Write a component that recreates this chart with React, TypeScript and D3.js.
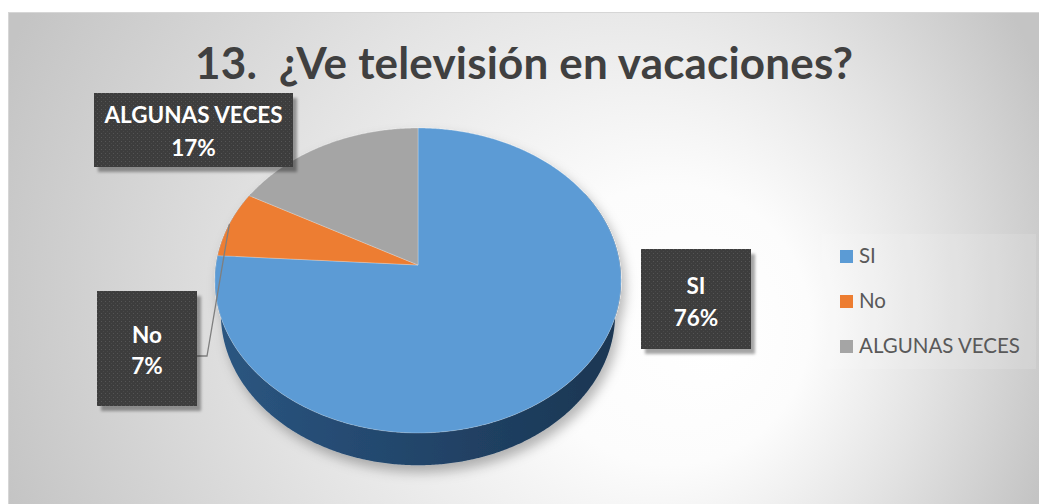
import React, { useEffect } from 'react';
import * as d3 from 'd3';

// ---- data ----
const categories = ['SI', 'No', 'ALGUNAS VECES'];
const values = [76, 7, 17];
const percentLabels = ['76%', '7%', '17%'];
const colors = ['#5B9BD5', '#ED7D31', '#A5A5A5'];
const title = '13.  ¿Ve televisión en vacaciones?';

// ---- layout ----
const W = 1039;
const H = 504;
const CX = 418;
const CY = 265;
const RX = 202;
const SIN_A = 0.747;
const COS_A = 0.665;
const K = 0.153;
const DEPTH = 0.26;

const labelBoxes = [
  { x: 641, y: 249, w: 110, h: 100, b1: 294, b2: 326 },
  { x: 97, y: 291, w: 100, h: 115, b1: 343, b2: 374 },
  { x: 94, y: 93, w: 199, h: 74, b1: 123, b2: 156 },
];

function project(theta: number, yw: number): [number, number] {
  const X = Math.sin(theta);
  const Z = Math.cos(theta);
  const yc = yw * COS_A + Z * SIN_A;
  const zc = (Z * COS_A - yw * SIN_A) * K + 1;
  return [CX + (RX * X) / zc, CY - (RX * yc) / zc];
}

function arcPoints(a0: number, a1: number, yw: number): [number, number][] {
  const n = Math.max(2, Math.ceil(Math.abs(a1 - a0) / (Math.PI / 360)));
  const pts: [number, number][] = [];
  for (let i = 0; i <= n; i++) {
    const t = a0 + ((a1 - a0) * i) / n;
    pts.push(project(t, yw));
  }
  return pts;
}

export default function App() {
  useEffect(() => {
    document.body.style.margin = '0';
  }, []);

  const pie = d3
    .pie<number>()
    .sort(null)
    .startAngle(0)
    .endAngle(2 * Math.PI)(values);

  const line = d3.line<[number, number]>().x((d) => d[0]).y((d) => d[1]);

  const toRad = (deg: number) => (deg * Math.PI) / 180;
  const sideTop = arcPoints(toRad(60), toRad(300), 0);
  const sideBottom = arcPoints(toRad(300), toRad(60), -DEPTH);
  const sidePath = line([...sideTop, ...sideBottom]) + 'Z';

  const slicePaths = pie.map((p) => {
    const pts: [number, number][] = [[CX, CY], ...arcPoints(p.startAngle, p.endAngle, 0)];
    return line(pts) + 'Z';
  });

  const noSlice = pie[1];
  const noMid = project((noSlice.startAngle + noSlice.endAngle) / 2, 0);
  const noBox = labelBoxes[1];
  const leader: [number, number][] = [
    [noBox.x + noBox.w, 356],
    [noBox.x + noBox.w + 10, 356],
    noMid,
  ];

  const legendX = 840;
  const legendY0 = 250;
  const legendStep = 45;

  return (
    <svg width={W} height={H} style={{ display: 'block' }} fontFamily="Lato, 'Open Sans', sans-serif">
      <defs>
        <radialGradient id="bg" gradientUnits="userSpaceOnUse" cx={520} cy={280} r={560} fx={720} fy={340}>
          <stop offset="0" stopColor="#ffffff" />
          <stop offset="0.25" stopColor="#fcfcfc" />
          <stop offset="0.6" stopColor="#e3e3e3" />
          <stop offset="1" stopColor="#c4c4c4" />
        </radialGradient>
        <linearGradient id="side" gradientUnits="userSpaceOnUse" x1={CX - RX} y1={0} x2={CX + RX} y2={0}>
          <stop offset="0" stopColor="#2b5681" />
          <stop offset="0.5" stopColor="#22456a" />
          <stop offset="1" stopColor="#1b3652" />
        </linearGradient>
        <pattern id="dots" width={4} height={4} patternUnits="userSpaceOnUse">
          <rect width={4} height={4} fill="#3d3d3d" />
          <rect x={1} y={1} width={1} height={1} fill="#555555" />
          <rect x={3} y={3} width={1} height={1} fill="#4a4a4a" />
        </pattern>
        <filter id="pieShadow" x="-20%" y="-20%" width="140%" height="140%">
          <feDropShadow dx={4} dy={7} stdDeviation={6} floodColor="#000" floodOpacity={0.28} />
        </filter>
        <filter id="boxShadow" x="-20%" y="-20%" width="140%" height="150%">
          <feDropShadow dx={4} dy={5} stdDeviation={1.5} floodColor="#000" floodOpacity={0.35} />
        </filter>
      </defs>

      <rect x={0} y={0} width={W} height={H} fill="#ffffff" />
      <rect x={8.5} y={12.5} width={W} height={H} fill="url(#bg)" stroke="#d6d6d6" strokeWidth={1} />

      <text
        x={524}
        y={79}
        textAnchor="middle"
        fontSize={44}
        fontWeight={700}
        fill="#404040"
        textLength={658}
        lengthAdjust="spacing"
        style={{ whiteSpace: 'pre' }}
      >
        {title}
      </text>

      <g filter="url(#pieShadow)">
        <path d={sidePath} fill="url(#side)" />
        {slicePaths.map((d, i) => (
          <path key={i} d={d} fill={colors[i]} stroke="rgba(255,255,255,0.25)" strokeWidth={1} strokeLinejoin="round" />
        ))}
      </g>

      <path d={line(leader) ?? ''} fill="none" stroke="#7f7f7f" strokeWidth={1.3} />

      {labelBoxes.map((b, i) => (
        <g key={i}>
          <rect x={b.x} y={b.y} width={b.w} height={b.h} fill="url(#dots)" filter="url(#boxShadow)" />
          <text x={b.x + b.w / 2} y={b.b1} textAnchor="middle" fontSize={22.5} fontWeight={700} fill="#ffffff">
            {categories[i]}
          </text>
          <text x={b.x + b.w / 2} y={b.b2} textAnchor="middle" fontSize={22.5} fontWeight={700} fill="#ffffff">
            {percentLabels[i]}
          </text>
        </g>
      ))}

      <rect x={822} y={234} width={214} height={135} fill="#ffffff" opacity={0.12} />
      {categories.map((c, i) => (
        <g key={c}>
          <rect x={legendX} y={legendY0 + i * legendStep} width={13} height={13} fill={colors[i]} />
          <text x={legendX + 19} y={legendY0 + 13 + i * legendStep} fontSize={20.5} fill="#595959">
            {c}
          </text>
        </g>
      ))}
    </svg>
  );
}
